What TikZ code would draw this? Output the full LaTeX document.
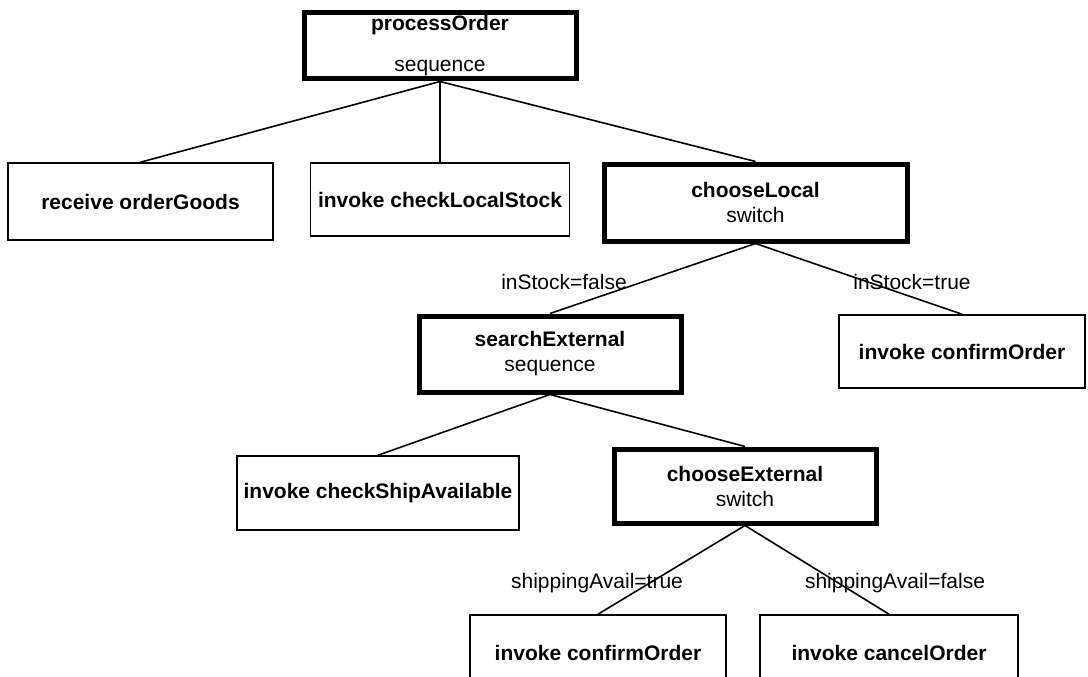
\documentclass[tikz,border=0pt]{standalone}
\usepackage{fontspec}
\setmainfont{Liberation Sans}
\begin{document}
\begin{tikzpicture}[x=1pt,y=-1pt,
  txt/.style={font=\fontsize{21}{25}\selectfont},
  box/.style={draw=black, line width=1.6pt, inner sep=0pt, align=center, txt},
  heavybox/.style={box, line width=5pt},
  link/.style={draw=black, line width=1.6pt},
  cond/.style={txt, inner sep=0pt}]
\useasboundingbox (0,0) rectangle (1088,677);
\clip (0,0) rectangle (1088,677);

% process root
\node[heavybox, minimum width=272pt, minimum height=66pt] (po) at (440,46)
  {\textbf{processOrder}\\[16pt]sequence};

% first level
\node[box, minimum width=265pt, minimum height=77pt] (recv) at (140.5,201.5)
  {\textbf{receive orderGoods}};
\node[box, minimum width=259pt, minimum height=73pt] (cls) at (440,199.5)
  {\textbf{invoke checkLocalStock}};
\node[heavybox, minimum width=303pt, minimum height=77pt] (cl) at (755.5,202.5)
  {\textbf{chooseLocal}\\switch};

% second level
\node[heavybox, minimum width=262pt, minimum height=76pt] (se) at (550,354)
  {\textbf{searchExternal}\\sequence};
\node[box, minimum width=246pt, minimum height=73pt] (co1) at (962,351.5)
  {\textbf{invoke confirmOrder}};

% third level
\node[box, minimum width=282pt, minimum height=74pt] (csa) at (378,493)
  {\textbf{invoke checkShipAvailable}};
\node[heavybox, minimum width=262pt, minimum height=74pt] (ce) at (745,486)
  {\textbf{chooseExternal}\\switch};

% fourth level
\node[box, minimum width=256pt, minimum height=76pt] (co2) at (598,653)
  {\textbf{invoke confirmOrder}};
\node[box, minimum width=258pt, minimum height=76pt] (cn) at (889,653)
  {\textbf{invoke cancelOrder}};

% connectors
\draw[link] (po.south) -- (recv.north);
\draw[link] (po.south) -- (cls.north);
\draw[link] (po.south) -- (cl.north);
\draw[link] (cl.south) -- (se.north);
\draw[link] (cl.south) -- (co1.north);
\draw[link] (se.south) -- (csa.north);
\draw[link] (se.south) -- (ce.north);
\draw[link] (ce.south) -- (co2.north);
\draw[link] (ce.south) -- (cn.north);

% branch conditions
\node[cond] (lf) at (564,282) {inStock=false};
\node[cond] (lt) at (912,282) {inStock=true};
\node[cond] (st) at (597,583) {shippingAvail=true};
\node[cond] (sf) at (895,583) {shippingAvail=false};
\end{tikzpicture}
\end{document}
